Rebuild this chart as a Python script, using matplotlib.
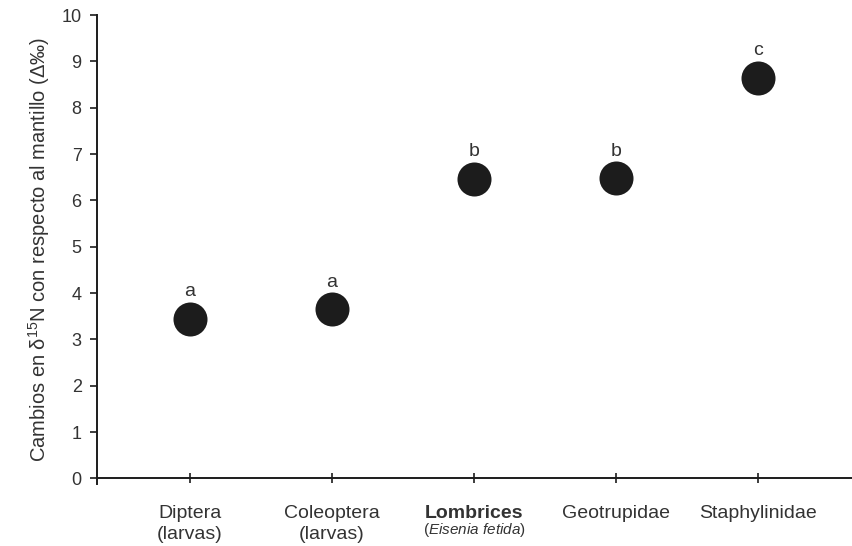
import matplotlib
matplotlib.use("Agg")
import matplotlib.pyplot as plt
import matplotlib.transforms as mtransforms

plt.rcParams["font.family"] = ["Liberation Sans", "DejaVu Sans"]
plt.rcParams["mathtext.fontset"] = "custom"
plt.rcParams["mathtext.rm"] = "Liberation Sans"
plt.rcParams["mathtext.it"] = "Liberation Sans:italic"

# δ15N enrichment relative to litter, per taxon
names = ["Diptera", "Coleoptera", "Lombrices", "Geotrupidae", "Staphylinidae"]
subnames = ["(larvas)", "(larvas)", "Eisenia fetida", "", ""]
delta_n = [3.45, 3.65, 6.46, 6.48, 8.65]
groups = ["a", "a", "b", "b", "c"]
yticks = list(range(0, 11))

INK = "#1c1c1c"
TXT = "#333333"

fig = plt.figure(figsize=(8.52, 5.46), dpi=100)
ax = fig.add_axes([0.1138, 0.1136, 0.8862, 0.8589])

xs = list(range(1, len(names) + 1))
ax.scatter(xs, delta_n, s=600, color=INK, zorder=3, linewidths=0)
for x, v, g in zip(xs, delta_n, groups):
    ax.annotate(g, (x, v), textcoords="offset points", xytext=(0, 19.5),
                ha="center", va="center", fontsize=14, color=TXT)

ax.set_xlim(0.345, 5.66)
ax.set_ylim(-0.12, 10)
ax.spines["top"].set_visible(False)
ax.spines["right"].set_visible(False)
ax.spines["bottom"].set_position(("data", 0))
for sp in ("left", "bottom"):
    ax.spines[sp].set_linewidth(1.4)
    ax.spines[sp].set_color(INK)

ax.set_yticks(yticks)
ax.set_yticklabels([str(t) for t in yticks])
ax.tick_params(axis="y", direction="out", length=5, width=1.2, pad=6,
               labelsize=13, labelcolor=TXT, color=INK)
ax.set_xticks(xs)
ax.set_xticklabels([])
ax.tick_params(axis="x", direction="inout", length=7, width=1.2, color=INK)

# category labels under the axis (mixed styles for the earthworm)
trans = mtransforms.blended_transform_factory(ax.transData, ax.transAxes)
for x, name, sub in zip(xs, names, subnames):
    bold = name == "Lombrices"
    ax.text(x, -0.062, name, transform=trans, ha="center", va="center",
            fontsize=14, color=TXT, fontweight="bold" if bold else "normal")
    if bold:
        ax.text(x, -0.099, r"($\mathit{Eisenia\ fetida}$)", transform=trans,
                ha="center", va="center", fontsize=11, color=TXT)
    elif sub:
        ax.text(x, -0.108, sub, transform=trans, ha="center", va="center",
                fontsize=14, color=TXT)

ax.set_ylabel("Cambios en δ$^{15}$N con respecto al mantillo (Δ‰)",
              fontsize=14.5, color=TXT, labelpad=7)

fig.savefig("out.png", dpi=100)
